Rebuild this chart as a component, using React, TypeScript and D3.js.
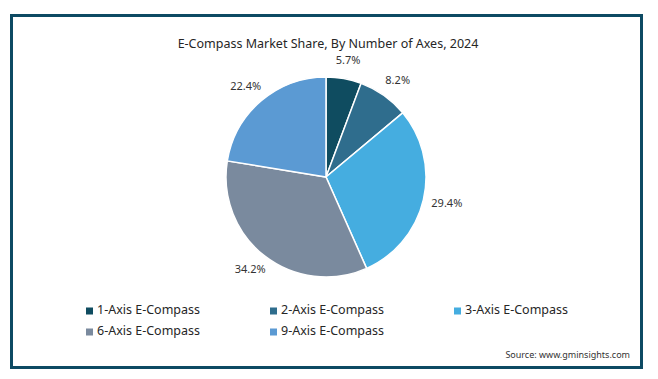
import React from "react";
import * as d3 from "d3";

const categories = ["1-Axis E-Compass", "2-Axis E-Compass", "3-Axis E-Compass", "6-Axis E-Compass", "9-Axis E-Compass"];
const shares = [5.7, 8.2, 29.4, 34.2, 22.4];
const colors = ["#0f4c60", "#2f6d8d", "#45ade0", "#7a8a9e", "#5b9ad3"];
const title = "E-Compass Market Share, By Number of Axes, 2024";
const source = "Source: www.gminsights.com";

const W = 658;
const H = 379;
const FONT = "'Noto Sans', sans-serif";

export default function App() {
  const cx = 326;
  const cy = 177;
  const r = 100;
  const pie = d3.pie<number>().sort(null).value((d) => d);
  const arcs = pie(shares);
  const arcGen = d3.arc<d3.PieArcDatum<number>>().innerRadius(0).outerRadius(r);

  const labelPos = (a: d3.PieArcDatum<number>) => {
    const th = (a.startAngle + a.endAngle) / 2;
    const s = Math.sin(th);
    const c = Math.cos(th);
    const ar = 112;
    return [cx + ar * s + 12 * s, cy - ar * c - 6 * c];
  };

  const legendCols = [86, 270, 454];
  const legendRows = [311, 332];

  return (
    <svg width={W} height={H} style={{ position: "absolute", left: 0, top: 0 }}>
      <rect x={0} y={0} width={W} height={H} fill="#ffffff" />
      <rect x={11.5} y={15.5} width={630} height={352} fill="#ffffff" stroke="#0d4a63" strokeWidth={3} />
      <text x={328} y={45} textAnchor="middle" dominantBaseline="middle" fontFamily={FONT} fontSize={12.5} fill="#262626">
        {title}
      </text>
      <g>
        {arcs.map((a, i) => (
          <path key={i} d={arcGen(a) || ""} transform={`translate(${cx},${cy})`} fill={colors[i]} stroke="#ffffff" strokeWidth={1.5} />
        ))}
      </g>
      <g>
        {arcs.map((a, i) => {
          const [x, y] = labelPos(a);
          return (
            <text key={i} x={x} y={y} textAnchor="middle" dominantBaseline="middle" fontFamily={FONT} fontSize={11} fill="#333333">
              {shares[i].toFixed(1)}%
            </text>
          );
        })}
      </g>
      <g>
        {categories.map((c, i) => {
          const col = i % 3;
          const row = Math.floor(i / 3);
          const x = legendCols[col];
          const y = legendRows[row];
          return (
            <g key={c}>
              <rect x={x} y={y - 3.5} width={7} height={7} fill={colors[i]} />
              <text x={x + 11} y={y} dominantBaseline="middle" fontFamily={FONT} fontSize={12.5} fill="#262626">
                {c}
              </text>
            </g>
          );
        })}
      </g>
      <text x={630} y={356} textAnchor="end" dominantBaseline="middle" fontFamily={FONT} fontSize={9} fill="#333333">
        {source}
      </text>
    </svg>
  );
}
